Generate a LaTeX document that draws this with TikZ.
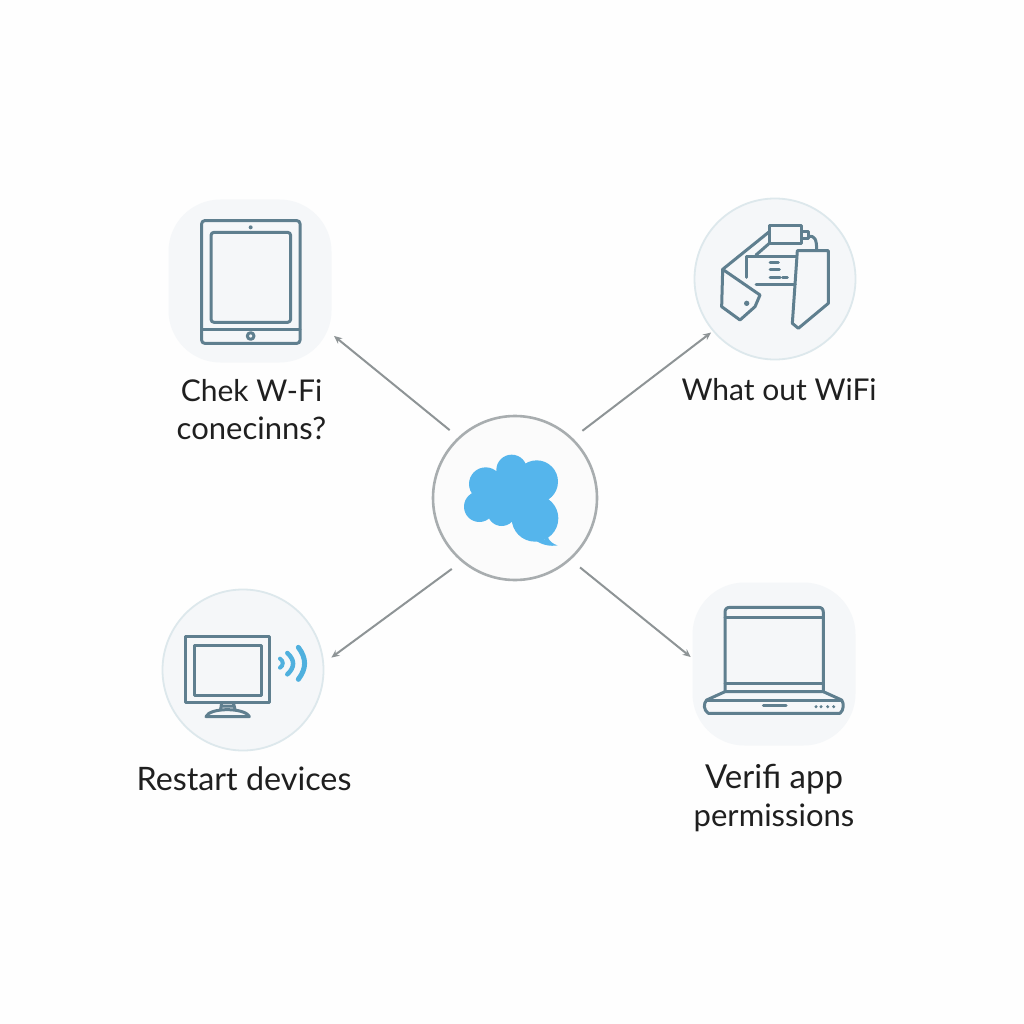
\documentclass[tikz,border=0pt]{standalone}
\usepackage{fontspec}
\setmainfont{Lato}
\usetikzlibrary{arrows.meta}
\definecolor{iconline}{HTML}{5F7F8F}
\definecolor{cardfill}{HTML}{F5F7F9}
\definecolor{cardrim}{HTML}{DDE8EC}
\definecolor{hubrim}{HTML}{A8ADAF}
\definecolor{linkgray}{HTML}{8E9496}
\definecolor{skyblue}{HTML}{55B5EC}
\definecolor{signal}{HTML}{4FB0DE}
\tikzset{
  x=1pt,y=-1pt,
  hubnode/.style={circle,draw=hubrim,line width=2.6pt,fill=white!98.5!black,minimum size=164pt,inner sep=0pt},
  roundcard/.style={circle,draw=cardrim,line width=1.8pt,fill=cardfill,minimum size=161pt,inner sep=0pt},
  squarecard/.style={rectangle,rounded corners=52pt,fill=cardfill,minimum size=163pt,inner sep=0pt},
  link/.style={draw=linkgray,line width=2pt,-{Stealth[length=8pt,width=7pt]}},
  icon/.style={draw=iconline,line width=3pt,line join=round,line cap=round},
  caption/.style={font=\fontsize{31}{38}\selectfont,text=black!88,align=center,inner sep=0pt}
}
\begin{document}
\begin{tikzpicture}
\useasboundingbox (0,0) rectangle (1024,1024);
\fill[white!99.6!black] (0,0) rectangle (1024,1024);

% central node and the four surrounding cards
\node[hubnode] (hub) at (515,498) {};
\node[squarecard] (tablet) at (250,281) {};
\node[roundcard] (router) at (775,279) {};
\node[roundcard] (monitor) at (243,670) {};
\node[squarecard] (laptop) at (774,664) {};

% connectors from the hub outwards
\draw[link,shorten <=11pt,shorten >=3pt] (hub.133) -- (tablet.-33);
\draw[link,shorten <=12pt,shorten >=2pt] (hub.46) -- (router.220);
\draw[link,shorten <=12pt,shorten >=9pt] (hub.230) -- (monitor.5);
\draw[link,shorten <=12pt,shorten >=2pt] (hub.-48) -- (laptop.176);

% speech cloud in the hub
\begin{scope}[shift={(420,405)},scale=1/3]
  \fill[skyblue] (275,195) circle (46) (350,230) circle (64) (197,237) circle (50)
    (178,305) circle (46) (245,320) circle (43) (345,340) circle (70) (280,270) circle (72);
  \fill[skyblue] (355,400) .. controls (370,410) and (375,405) .. (382,395)
    .. controls (390,410) and (400,418) .. (413,421)
    .. controls (390,425) and (365,420) .. (345,405) -- cycle;
\end{scope}

% tablet
\begin{scope}[shift={(155,190)},scale=1/3]
  \draw[icon,rounded corners=3pt] (140,92) rectangle (435,460);
  \draw[icon,rounded corners=3pt] (168,127) rectangle (407,397);
  \draw[icon] (140,420) -- (435,420);
  \fill[iconline] (287,112) circle (6);
  \draw[icon] (287,438) circle (10);
\end{scope}

% router and tags
\begin{scope}[shift={(680,190)},scale=1/3]
  \draw[icon] (268,108) rectangle (365,160);
  \draw[icon] (365,125) -- (385,125) -- (385,145) -- (365,145);
  \draw[icon] (385,140) .. controls (405,135) and (410,150) .. (410,180);
  \draw[icon] (268,125) -- (128,238);
  \draw[icon] (268,160) -- (228,195);
  \draw[icon] (200,262) -- (200,200) -- (350,200);
  \draw[icon] (228,285) -- (345,285);
  \draw[icon] (128,238) -- (240,315) -- (225,350) -- (180,390) -- (125,350) -- cycle;
  \fill[iconline] (200,340) circle (8);
  \draw[icon] (352,182) -- (445,182) -- (445,340) -- (355,415) -- (337,400) -- cycle;
  \draw[icon] (270,217) -- (295,217) (270,240) -- (298,240) (270,263) -- (300,263) (308,263) -- (322,263);
\end{scope}

% monitor with signal arcs
\begin{scope}[shift={(150,580)},scale=1/3]
  \draw[icon] (107,168) rectangle (358,368);
  \draw[icon] (132,195) rectangle (335,345);
  \draw[icon] (215,368) -- (212,388) (250,368) -- (255,388) (213,378) -- (252,378);
  \draw[icon] (168,410) .. controls (178,382) and (285,382) .. (298,410) -- cycle;
  \draw[signal,line width=4pt,line cap=round] (390,236) .. controls (401,243) and (401,256) .. (390,263);
  \draw[signal,line width=4.5pt,line cap=round] (412,219) .. controls (435,240) and (435,262) .. (412,283);
  \draw[signal,line width=5pt,line cap=round] (445,202) .. controls (470,235) and (470,265) .. (445,298);
\end{scope}

% laptop
\begin{scope}[shift={(680,575)},scale=1/3]
  \draw[icon] (135,350) -- (135,112) .. controls (135,102) and (140,97) .. (150,97)
    -- (415,97) .. controls (425,97) and (430,102) .. (430,112) -- (430,350);
  \draw[icon] (135,128) -- (430,128) (135,325) -- (430,325);
  \draw[icon] (135,350) -- (430,350) -- (485,375)
    .. controls (492,385) and (492,405) .. (480,415) -- (85,415)
    .. controls (70,405) and (70,385) .. (80,375) -- cycle;
  \draw[icon] (80,375) -- (485,375);
  \draw[icon] (250,392) -- (318,392);
  \foreach \px in {408,423,443,461} \fill[iconline] (\px,395) circle (5);
\end{scope}

% captions
\node[caption] (tabletcaption) at (251.5,410) {{\fontsize{30}{38}\selectfont Chek W-Fi\hspace{3pt}}\\conecinns?};
\node[caption,font=\fontsize{30}{38}\selectfont] (routercaption) at (779,390) {What out WiFi};
\node[caption,font=\fontsize{32.3}{38}\selectfont] (monitorcaption) at (244,779) {Restart devices};
\node[caption] (laptopcaption) at (774,798) {{\fontsize{33}{38}\selectfont Verifi app}\\permissions};
\end{tikzpicture}
\end{document}
